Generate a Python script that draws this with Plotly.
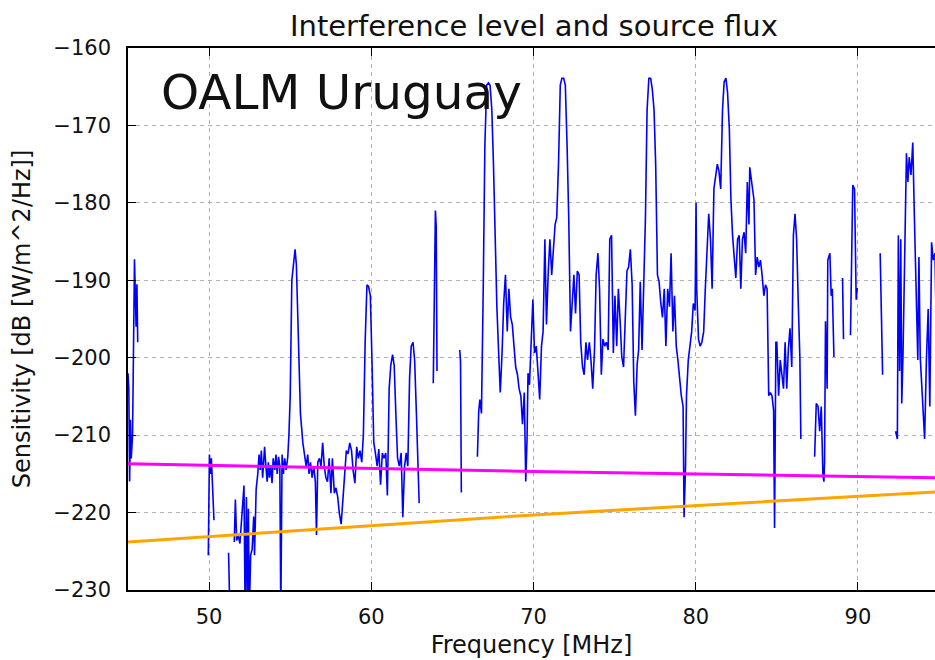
import plotly.graph_objects as go

# Interference level (blue), gaps are None
freq = [
    45.00, 45.05, 45.10, 45.15, 45.20, 45.28, 45.40, 45.45, 45.50, 45.55, 45.60, None,
    49.95, 50.02, 50.08, 50.14, 50.20, 50.30, None,
    51.20, 51.28, None,
    51.55, 51.62, 51.70, 51.80, 51.90, 52.00, 52.08, 52.15, 52.22, 52.30, 52.36, 52.42, 52.48,
    52.56, 52.65, 52.75, 52.80, 52.90, 53.00, 53.08, 53.15, 53.22, 53.30, 53.36, 53.42, 53.50,
    53.58, 53.65, 53.72, 53.80, 53.88, 53.95, 54.05, 54.12, 54.20, 54.28, 54.36, 54.42, 54.50,
    54.58, 54.66, 54.75, 54.85, 54.92, 55.00, 55.10, 55.20, 55.30, 55.38, 55.45, 55.53, 55.63,
    55.78, 55.90, 55.98, 56.08, 56.16, 56.25, 56.35, 56.45, 56.55, 56.62, 56.70, 56.80, 56.90,
    57.00, 57.10, 57.20, 57.30, 57.40, 57.51, 57.60, 57.72, 57.82, 57.93, 58.03, 58.14, 58.25,
    58.35, 58.46, 58.57, 58.67, 58.78, 58.88, 58.99, 59.10, 59.20, 59.30, 59.41, 59.51, 59.62,
    59.73, 59.83, 59.94, 60.04, 60.15, 60.25, 60.36, 60.46, 60.57, 60.68, 60.78, 60.89, 60.99,
    61.10, 61.20, 61.31, 61.41, 61.52, 61.62, 61.73, 61.84, 61.94, 62.05, 62.15, 62.25, 62.36,
    62.46, 62.57, 62.67, 62.78, 62.88, 62.95, None,
    63.82, 63.95, 64.00, 64.05, None,
    65.45, 65.50, 65.55, None,
    66.54, 66.62, 66.69, 66.79, 66.90, 67.00, 67.11, 67.22, 67.32, 67.43, 67.53, 67.64, 67.74,
    67.85, 67.95, 68.06, 68.16, 68.27, 68.38, 68.48, 68.59, 68.69, 68.80, 68.90, 69.01, 69.11,
    69.22, 69.32, 69.43, 69.52, 69.60, 69.66, 69.75, 69.85, 69.96, 70.06, 70.17, 70.27, 70.38,
    70.49, 70.59, 70.70, 70.80, 70.91, 71.01, 71.12, 71.22, 71.33, 71.43, 71.54, 71.65, 71.75,
    71.86, 71.96, 72.07, 72.17, 72.28, 72.38, 72.49, 72.59, 72.70, 72.81, 72.91, 73.02, 73.12,
    73.23, 73.33, 73.44, 73.54, 73.65, 73.76, 73.86, 73.97, 74.07, 74.18, 74.28, 74.39, 74.49,
    74.60, 74.70, 74.81, 74.92, 75.02, 75.13, 75.23, 75.34, 75.44, 75.55, 75.65, 75.76, 75.86,
    75.97, 76.08, 76.18, 76.28, 76.39, 76.48, 76.58, 76.69, 76.79, 76.90, 77.00, 77.11, 77.22,
    77.32, 77.43, 77.53, 77.64, 77.74, 77.85, 77.95, 78.06, 78.16, 78.27, 78.38, 78.48, 78.59,
    78.69, 78.80, 78.90, 79.01, 79.11, 79.22, 79.28, 79.37, 79.43, 79.54, 79.64, 79.75, 79.85,
    79.96, 80.02, 80.06, 80.17, 80.27, 80.38, 80.49, 80.59, 80.70, 80.80, 80.91, 81.01, 81.12,
    81.22, 81.33, 81.43, 81.54, 81.65, 81.75, 81.86, 81.96, 82.07, 82.17, 82.27, 82.37, 82.47,
    82.58, 82.68, 82.78, 82.88, 82.98, 83.08, 83.18, 83.28, 83.33, 83.39, 83.49, 83.59, 83.69,
    83.79, 83.89, 83.99, 84.09, 84.20, 84.30, 84.40, 84.50, 84.60, 84.70, 84.80, 84.86, 84.94,
    85.00, 85.11, 85.21, 85.31, 85.41, 85.51, 85.61, 85.71, 85.81, 85.92, 86.02, 86.12, 86.22,
    86.32, 86.42, 86.48, None,
    87.33, 87.43, 87.54, 87.64, 87.74, 87.84, 87.90, 87.94, 88.00, 88.10, 88.14, 88.27, 88.35,
    88.42, 88.52, None,
    89.05, 89.11, None,
    89.54, 89.68, 89.79, 89.89, 89.96, None,
    91.37, 91.43, 91.52, None,
    92.32, 92.43, 92.49, 92.57, 92.64, 92.70, 92.78, 92.91, 92.99, 93.08, 93.16, 93.27, 93.38,
    93.48, 93.59, 93.69, 93.76, 93.84, 93.97, 94.11, 94.22, 94.33, 94.43, 94.54, 94.64, 94.75,
    94.85,
]
level = [
    -202.0, -204.0, -216.0, -208.0, -213.0, -210.0, -187.3, -193.0, -196.0, -190.5, -198.0, None,
    -225.5, -212.5, -215.0, -213.0, -216.0, -221.0, None,
    -225.2, -233.0, None,
    -223.8, -218.3, -223.6, -223.0, -224.0, -221.0, -219.0, -216.5, -233.0, -218.0, -233.0, -219.5, -233.0,
    -225.5, -224.8, -220.5, -225.5, -217.0, -215.0, -212.5, -214.5, -212.0, -215.5, -213.0, -211.5, -214.0,
    -216.0, -213.5, -215.5, -214.0, -216.2, -213.0, -214.5, -212.5, -215.0, -212.8, -214.0, -233.0, -212.5,
    -215.0, -213.0, -214.5, -212.8, -210.0, -205.0, -190.0, -187.4, -186.0, -188.0, -193.0, -200.3, -207.2,
    -211.0, -212.8, -214.0, -212.5, -215.0, -213.5, -215.5, -214.0, -216.0, -222.9, -213.5, -213.0, -214.0,
    -211.0, -214.0, -215.5, -216.0, -213.0, -217.5, -213.0, -217.5, -216.8, -218.0, -220.1, -221.5, -218.3,
    -214.6, -212.0, -212.4, -211.0, -212.0, -214.6, -216.2, -211.5, -213.0, -212.0, -213.5, -210.0, -198.0,
    -190.6, -190.8, -192.0, -200.3, -210.9, -212.3, -214.0, -211.8, -216.4, -212.3, -213.0, -212.3, -217.8,
    -204.0, -201.0, -199.6, -201.0, -207.7, -213.0, -214.0, -212.3, -220.6, -214.0, -212.3, -214.0, -202.6,
    -198.5, -198.0, -200.3, -207.2, -214.0, -218.8, None,
    -203.3, -181.0, -183.0, -201.7, None,
    -199.0, -200.5, -217.4, None,
    -212.8, -207.0, -205.4, -207.2, -191.0, -172.7, -164.8, -164.5, -164.8, -168.0, -175.0, -186.5, -193.4,
    -199.4, -204.5, -199.4, -193.0, -189.3, -196.6, -191.1, -194.8, -195.7, -198.5, -201.2, -202.2, -204.0,
    -205.0, -208.6, -204.5, -216.0, -210.5, -202.0, -203.5, -197.1, -192.5, -199.4, -198.5, -201.7, -205.4,
    -198.5, -196.6, -184.7, -195.7, -188.8, -184.7, -189.3, -185.6, -182.8, -181.9, -175.0, -164.8, -163.9,
    -163.9, -164.8, -172.7, -181.9, -196.6, -193.0, -189.3, -194.3, -188.8, -189.3, -198.0, -201.2, -202.2,
    -198.0, -200.3, -198.0, -200.3, -204.0, -198.9, -189.3, -186.5, -191.1, -202.2, -197.6, -198.5, -198.0,
    -199.0, -184.7, -184.2, -199.4, -192.0, -198.5, -191.1, -195.3, -199.9, -201.2, -195.7, -188.8, -188.3,
    -186.0, -190.6, -203.1, -207.5, -200.8, -199.0, -190.2, -199.0, -190.2, -181.9, -168.0, -163.9, -163.9,
    -165.3, -168.0, -175.0, -189.3, -190.2, -193.0, -194.8, -191.1, -198.5, -191.1, -193.4, -186.5, -196.6,
    -192.0, -198.5, -200.3, -203.1, -204.9, -206.3, -220.6, -214.0, -204.9, -200.3, -198.5, -196.6, -193.0,
    -193.9, -180.0, -191.1, -197.6, -198.5, -198.0, -196.6, -191.1, -186.5, -181.4, -184.7, -191.1, -178.2,
    -176.4, -175.0, -175.9, -178.2, -168.0, -164.4, -163.9, -165.7, -170.4, -179.6, -184.2, -186.5, -189.7,
    -184.7, -184.2, -191.1, -184.7, -183.8, -186.5, -177.3, -182.8, -175.4, -176.4, -178.2, -179.6, -189.3,
    -187.0, -188.3, -187.4, -189.3, -192.0, -190.6, -191.1, -204.9, -204.5, -204.9, -206.8, -222.0, -198.0,
    -198.0, -204.9, -200.3, -202.2, -204.0, -198.0, -204.0, -198.9, -196.2, -201.2, -184.2, -181.4, -184.7,
    -192.9, -200.0, -210.5, None,
    -212.8, -205.9, -206.3, -209.5, -206.3, -215.1, -216.0, -213.5, -195.3, -204.0, -187.4, -186.5, -192.0,
    -191.1, -199.9, None,
    -189.7, -197.6, None,
    -197.1, -177.7, -178.2, -192.5, -191.0, None,
    -186.5, -194.8, -202.2, None,
    -209.5, -210.5, -184.2, -201.7, -184.7, -205.9, -199.4, -179.6, -173.6, -177.3, -174.1, -176.4, -172.2,
    -181.9, -191.1, -200.3, -187.0, -199.9, -205.0, -210.5, -200.3, -193.7, -206.3, -185.1, -187.4, -186.5,
    -199.0,
]

# Source flux curves
flux_freq = [45.0, 70.0, 95.0]
flux_magenta = [-213.7, -214.7, -215.5]
flux_orange = [-223.8, -220.3, -217.3]

x_ticks = [50, 60, 70, 80, 90]
y_ticks = [-230, -220, -210, -200, -190, -180, -170, -160]

FONT = "DejaVu Sans"

fig = go.Figure()
fig.add_trace(go.Scatter(x=freq, y=level, mode="lines", connectgaps=False,
                         line=dict(color="#0000ff", width=1.6), showlegend=False))
fig.add_trace(go.Scatter(x=flux_freq, y=flux_magenta, mode="lines",
                         line=dict(color="#ff00ff", width=3), showlegend=False))
fig.add_trace(go.Scatter(x=flux_freq, y=flux_orange, mode="lines",
                         line=dict(color="#ffa500", width=3), showlegend=False))

fig.update_layout(
    width=935, height=660,
    margin=dict(l=128, r=0, t=48, b=70, autoexpand=False),
    paper_bgcolor="white", plot_bgcolor="white",
    font=dict(family=FONT, color="#111111"),
    title=dict(text="Interference level and source flux", x=0.503, xref="paper",
               xanchor="center", y=1 - 26 / 660, yanchor="middle",
               font=dict(size=29, family=FONT, color="#111111")),
    annotations=[dict(text="OALM Uruguay", x=0.038, xref="paper", y=0.918, yref="paper",
                      xanchor="left", yanchor="middle", showarrow=False,
                      font=dict(size=48.5, family=FONT, color="#111111"))],
)
fig.update_xaxes(
    range=[45, 94.75], tickvals=x_ticks, ticks="inside", ticklen=8, tickwidth=1.2,
    tickcolor="black", showline=True, linecolor="black", linewidth=1.5, mirror="ticks",
    showgrid=True, gridcolor="#b0b0b0", griddash="4px,4px", gridwidth=1,
    zeroline=False, tickfont=dict(size=21, family=FONT), ticklabelstandoff=7,
    title=dict(text="Frequency [MHz]", font=dict(size=24, family=FONT), standoff=8),
)
fig.update_yaxes(
    range=[-230, -160], tickvals=y_ticks, ticks="inside", ticklen=8, tickwidth=1.2,
    tickcolor="black", showline=True, linecolor="black", linewidth=1.5, mirror=False,
    showgrid=True, gridcolor="#b0b0b0", griddash="4px,4px", gridwidth=1,
    zeroline=False, tickfont=dict(size=21, family=FONT), ticklabelstandoff=11,
    title=dict(text="Sensitivity [dB [W/m^2/Hz]]", font=dict(size=24, family=FONT), standoff=16),
)

fig.write_html("out.html", config={"displayModeBar": False},
               post_script="document.body.style.margin='0px';")
